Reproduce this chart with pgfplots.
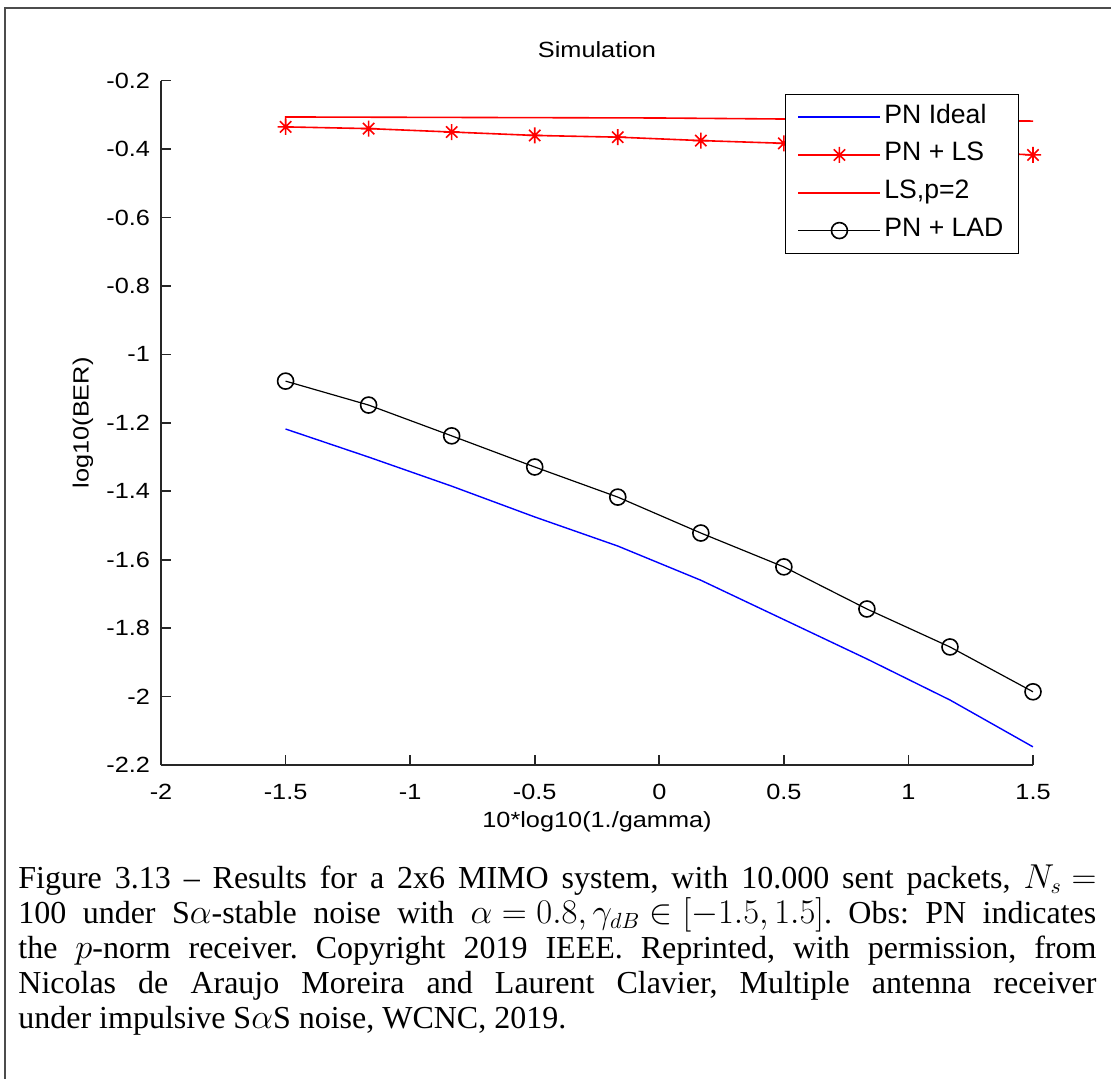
\documentclass[border=0pt]{standalone}
\usepackage{fontspec}
\setmainfont{Liberation Serif}
\newfontfamily\mfont[FakeStretch=1.15]{Liberation Sans}
\newfontfamily\lfont{Liberation Sans}
\usepackage{pgfplots}
\pgfplotsset{compat=1.18}

\pgfdeclareplotmark{mstar}{%
  \pgfpathmoveto{\pgfqpoint{-\pgfplotmarksize}{0pt}}\pgfpathlineto{\pgfqpoint{\pgfplotmarksize}{0pt}}%
  \pgfpathmoveto{\pgfqpoint{0pt}{-\pgfplotmarksize}}\pgfpathlineto{\pgfqpoint{0pt}{\pgfplotmarksize}}%
  \pgfpathmoveto{\pgfqpoint{-.7071\pgfplotmarksize}{-.7071\pgfplotmarksize}}\pgfpathlineto{\pgfqpoint{.7071\pgfplotmarksize}{.7071\pgfplotmarksize}}%
  \pgfpathmoveto{\pgfqpoint{-.7071\pgfplotmarksize}{.7071\pgfplotmarksize}}\pgfpathlineto{\pgfqpoint{.7071\pgfplotmarksize}{-.7071\pgfplotmarksize}}%
  \pgfusepathqstroke}

\pgfplotsset{
  mylegimg/.style={legend image code/.code={%
    \draw[mark repeat=2,mark phase=2,##1] plot coordinates {(0pt,0pt) (20.5pt,0pt) (41pt,0pt)};}}
}

\begin{document}
\begin{tikzpicture}
\useasboundingbox (0,0) rectangle (555.5pt,-539.5pt);
\draw[line width=1pt, black!70] (555.5pt,-4pt) -- (2.5pt,-4pt) -- (2.5pt,-539.5pt);
\begin{axis}[
  at={(80.5pt,-382.5pt)}, anchor=south west,
  scale only axis, width=436pt, height=342.15pt,
  xmin=-2, xmax=1.5, ymin=-2.2, ymax=-0.2,
  axis x line=bottom, axis y line=left,
  axis line style={-, line width=0.8pt, black!85},
  every tick/.style={black!85, line width=0.8pt},
  tick align=inside, major tick length=5pt,
  xtick={-2,-1.5,-1,-0.5,0,0.5,1,1.5},
  ytick={-2.2,-2,-1.8,-1.6,-1.4,-1.2,-1,-0.8,-0.6,-0.4,-0.2},
  /pgf/number format/assume math mode=true,
  ticklabel style={font=\mfont\fontsize{11}{13}\selectfont},
  xticklabel style={yshift=-6pt},
  yticklabel style={xshift=-2pt},
  every axis title shift=0pt,
  title={Simulation},
  title style={font=\mfont\fontsize{11}{13}\selectfont, at={(axis description cs:0.5,1.0449)}, anchor=center},
  xlabel={10*log10(1./gamma)},
  xlabel style={font=\mfont\fontsize{11}{13}\selectfont, at={(axis description cs:0.5,-0.0833)}, anchor=center},
  ylabel={log10(BER)},
  ylabel style={font=\mfont\fontsize{11}{13}\selectfont, at={(axis description cs:-0.0895,0.5)}, anchor=center},
  legend style={at={(0.984,0.9806)}, anchor=north east, fill=white,
    font=\lfont\fontsize{13.3}{16}\selectfont, inner xsep=6pt, inner ysep=3.4pt, row sep=2.9pt,
    nodes={inner xsep=1.6pt, inner ysep=2pt, text height=9pt, text depth=3pt}},
  legend cell align=left,
  mylegimg,
]
\addplot[blue, line width=0.7pt] coordinates {
  (-1.5,-1.218) (-1.1667,-1.300) (-0.8333,-1.385) (-0.5,-1.475) (-0.1667,-1.560)
  (0.1667,-1.660) (0.5,-1.775) (0.8333,-1.890) (1.1667,-2.010) (1.5,-2.147)};
\addlegendentry{PN Ideal}
\addplot[red, line width=0.8pt, mark=mstar, mark size=4pt, mark options={line width=0.8pt}] coordinates {
  (-1.5,-0.335) (-1.1667,-0.340) (-0.8333,-0.350) (-0.5,-0.360) (-0.1667,-0.365)
  (0.1667,-0.375) (0.5,-0.383) (0.8333,-0.395) (1.1667,-0.405) (1.5,-0.417)};
\addlegendentry{PN + LS}
\addplot[red, line width=0.8pt] coordinates {
  (-1.5,-0.335) (-1.5,-0.306) (0,-0.309) (1.5,-0.318)};
\addlegendentry{LS,p=2}
\addplot[black, line width=0.6pt, mark=o, mark size=4pt, mark options={line width=0.8pt}] coordinates {
  (-1.5,-1.078) (-1.1667,-1.148) (-0.8333,-1.238) (-0.5,-1.329) (-0.1667,-1.417)
  (0.1667,-1.522) (0.5,-1.621) (0.8333,-1.744) (1.1667,-1.855) (1.5,-1.986)};
\addlegendentry{PN + LAD}
\end{axis}
\node[anchor=base west, inner sep=0pt] at (9pt,-444pt) {\parbox[t]{539pt}{\fontsize{16}{17.5}\selectfont\frenchspacing
\thickmuskip=5mu\medmuskip=4mu
Figure 3.13 – Results for a 2x6 MIMO system, with 10.000 sent packets, $N_s =$\linebreak
100 under S$\alpha$-stable noise with $\alpha = 0.8, \gamma_{dB} \in [-1.5,1.5]$. Obs: PN indicates\linebreak
the $p$-norm receiver. Copyright 2019 IEEE. Reprinted, with permission, from\linebreak
Nicolas de Araujo Moreira and Laurent Clavier, Multiple antenna receiver\linebreak
under impulsive S$\alpha$S noise, WCNC, 2019.}};
\end{tikzpicture}
\end{document}
